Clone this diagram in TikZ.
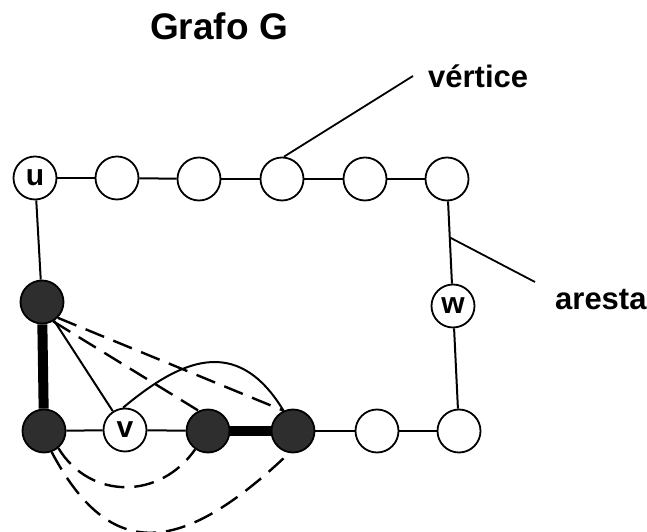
\documentclass[tikz,border=0pt]{standalone}
\usepackage{fontspec}
\setmainfont{Liberation Sans}
\usetikzlibrary{calc}
\begin{document}
\begin{tikzpicture}[x=1pt,y=1pt,
  vtx/.style={circle,draw=black,line width=1.8pt,fill=white,minimum size=43pt,inner sep=0pt,font=\fontsize{30}{30}\selectfont\bfseries},
  dark/.style={vtx,fill=black!82},
  edge/.style={line width=2pt},
  heavy/.style={line width=10pt},
  dashedge/.style={line width=2.4pt,dash pattern=on 20pt off 10pt},
  leader/.style={line width=1.8pt},
  lbl/.style={anchor=base west,inner sep=0pt,font=\fontsize{31}{31}\selectfont\bfseries}
]
\useasboundingbox (0,0) rectangle (647,532);
% title and labels
\node[lbl,font=\fontsize{37}{37}\selectfont\bfseries] (title) at (150,492) {Grafo G};
\node[lbl] (vlabel) at (428,444) {vértice};
\node[lbl] (alabel) at (555,222) {aresta};
% vertices
\node[vtx] (u)  at (35,354) {u};
\node[vtx] (t2) at (117,354) {};
\node[vtx] (t3) at (199,353) {};
\node[vtx] (t4) at (282,353) {};
\node[vtx] (t5) at (365,353) {};
\node[vtx] (t6) at (447,353) {};
\node[dark] (tl) at (42,230) {};
\node[vtx] (w)  at (453,226) {w};
\node[dark] (bl) at (44,101) {};
\node[vtx] (v)  at (125,102) {v};
\node[dark] (d3) at (208,101) {};
\node[dark] (d4) at (293,101) {};
\node[vtx] (b5) at (377,101) {};
\node[vtx] (b6) at (459,101) {};
% cycle edges
\draw[edge] (u) -- (t2);
\draw[edge] (t2) -- (t3);
\draw[edge] (t3) -- (t4);
\draw[edge] (t4) -- (t5);
\draw[edge] (t5) -- (t6);
\draw[edge] (t6) -- (w);
\draw[edge] (w) -- (b6);
\draw[edge] (b6) -- (b5);
\draw[edge] (b5) -- (d4);
\draw[heavy] (d4) -- (d3);
\draw[edge] (d3) -- (v);
\draw[edge] (v) -- (bl);
\draw[heavy] (bl) -- (tl);
\draw[edge] (tl) -- (u);
% extra edges
\draw[edge] (tl) -- (v);
\draw[edge] (v.95) .. controls (178,170) and (236,200) .. (d4.115);
\draw[dashedge] (tl.-45) -- (d4.115);
\draw[dashedge] (tl.-60) -- (d3.115);
\draw[dashedge] (bl.-50) .. controls (90,32) and (160,32) .. (d3.-125);
\draw[dashedge] (bl.-70) .. controls (110,-30) and (180,-25) .. (d4.-100);
% leaders
\coordinate (vend) at (413,456);
\coordinate (aend) at (535,250);
\coordinate (aedge) at ($(t6)!0.46!(w)$);
\draw[leader] (vend) -- (t4.85);
\draw[leader] (aedge) -- (aend);
\end{tikzpicture}
\end{document}
